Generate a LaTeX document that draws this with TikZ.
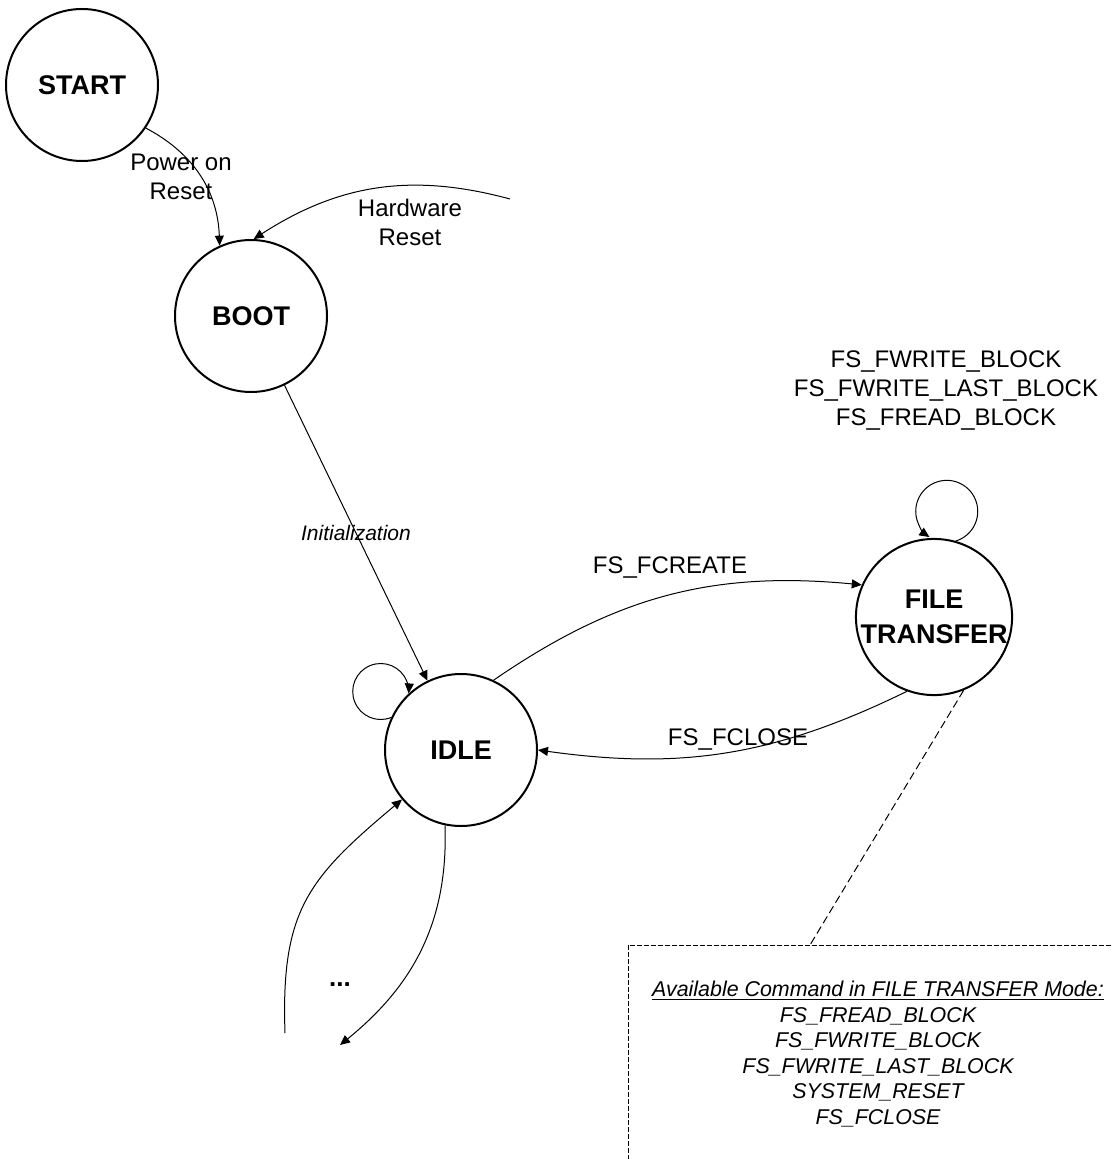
\documentclass[tikz,border=0pt]{standalone}
\usepackage{fontspec}
\setmainfont{Liberation Sans}
\usetikzlibrary{arrows.meta}

\begin{document}
\begin{tikzpicture}[
    x=0.5pt, y=0.5pt,
    state/.style={circle, draw, line width=1pt, minimum size=76pt, inner sep=0pt, font=\fontsize{13.5}{17.5}\selectfont\bfseries},
    trans/.style={-{Triangle[length=5pt, width=4.5pt]}, line width=0.5pt},
    edgelabel/.style={font=\fontsize{12}{14.5}\selectfont, align=center, inner sep=1pt},
    note/.style={draw, dash pattern=on 2.5pt off 1pt, line width=0.5pt, minimum width=250pt, minimum height=109pt, align=center, font=\fontsize{10.7}{12.75}\selectfont\itshape}
]
    % Page frame
    \useasboundingbox (0,0) rectangle (1111,-1159);
    \clip (0,0) rectangle (1111,-1159);

    % States
    \node[state] (start) at (82,-85) {START};
    \node[state] (boot) at (251,-316) {BOOT};
    \node[state] (idle) at (461,-750) {IDLE};
    \node[state, align=center] (ft) at (934,-617) {FILE\\TRANSFER};

    % Loose ends
    \coordinate (hwfree) at (510,-199);
    \coordinate (infree) at (285,-1033);
    \coordinate (outfree) at (340,-1045);
    \coordinate (notetip) at (810,-945);

    % Transitions
    \draw[trans] (start.-34) to[bend left=30] (boot.114);
    \draw[trans] (hwfree) to[bend right=24] (boot.88);
    \draw[trans] (boot) -- node[font=\fontsize{10.5}{12}\selectfont\itshape] (init) {Initialization} (idle);
    \draw[trans] (idle.155) arc[start angle=-68, delta angle=-296, radius=28];
    \draw[trans] (ft.74) arc[start angle=-73, delta angle=309, radius=31];
    \draw[trans] (idle.65) to[bend left=20] (ft.156);
    \draw[trans] (ft.250) to[bend left=17] (idle.0);
    \draw[trans] (infree) to[out=92, in=220, looseness=1.2] (idle.220);
    \draw[trans] (idle.258) to[out=-88, in=39] (outfree);

    % Transition labels
    \node[edgelabel] (lpower) at (181,-177) {Power on\\Reset};
    \node[edgelabel] (lhw) at (410,-222) {Hardware\\Reset};
    \node[edgelabel] (lcreate) at (670,-568) {FS\_FCREATE};
    \node[edgelabel] (lclose) at (738,-740) {FS\_FCLOSE};
    \node[edgelabel] (lloop) at (946,-391) {FS\_FWRITE\_BLOCK\\FS\_FWRITE\_LAST\_BLOCK\\FS\_FREAD\_BLOCK};
    \node[font=\fontsize{13}{15}\selectfont\bfseries] (more) at (340,-985) {...};

    % Command note
    \node[note] (cmds) at (878,-1054) {\underline{Available Command in FILE TRANSFER Mode:}\\
        FS\_FREAD\_BLOCK\\
        FS\_FWRITE\_BLOCK\\
        FS\_FWRITE\_LAST\_BLOCK\\
        SYSTEM\_RESET\\
        FS\_FCLOSE};
    \draw[dash pattern=on 4pt off 2pt, line width=0.5pt] (ft.-68) -- (notetip);
\end{tikzpicture}
\end{document}
